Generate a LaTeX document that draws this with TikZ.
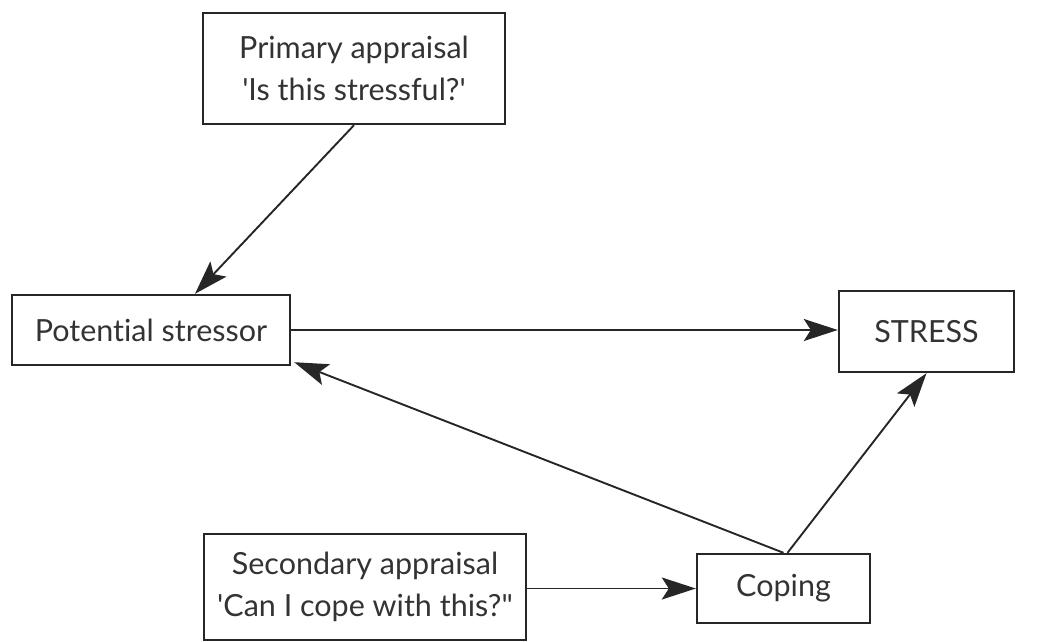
\documentclass[tikz,border=0pt]{standalone}
\usepackage{fontspec}
\setmainfont{Lato}[Ligatures={NoCommon}]
\usetikzlibrary{arrows.meta,calc}
\begin{document}
\begin{tikzpicture}[x=1pt,y=-1pt,
  box/.style={draw=black!85, line width=2.4pt, rectangle, inner sep=0pt,
    align=center, text=black!80,
    font=\fontsize{30.5}{42}\selectfont},
  link/.style={draw=black!85, line width=1.9pt,
    -{Stealth[length=34pt,width=22pt,inset=7pt]}}]
  \useasboundingbox (0,0) rectangle (1038,642);
  % boxes
  \node[box, minimum width=302pt, minimum height=111pt] (pa) at (354,68.5)
    {Primary appraisal\\\textquotesingle Is this stressful?\textquotesingle};
  \node[box, minimum width=278pt, minimum height=70pt] (ps) at (151,330)
    {Potential stressor};
  \node[box, minimum width=175pt, minimum height=81pt] (st) at (926.5,331.5)
    {STRESS};
  \node[box, minimum width=322pt, minimum height=106pt] (sa) at (365,587)
    {Secondary appraisal\\\textquotesingle Can I cope with this?\textquotedbl};
  \node[box, minimum width=173pt, minimum height=69pt] (co) at (783.5,588.5)
    {Coping};
  % connectors
  \draw[link] (pa.south) -- ($(ps.north)+(44,0)$);
  \draw[link] (ps.east) -- (ps.east -| st.west);
  \draw[link] (co.north) -- ($(ps.south east)+(3,-4)$);
  \draw[link] ($(co.north)+(4,0)$) -- (st.south);
  \draw[link] (sa.east |- co.west) -- (co.west);
\end{tikzpicture}
\end{document}
